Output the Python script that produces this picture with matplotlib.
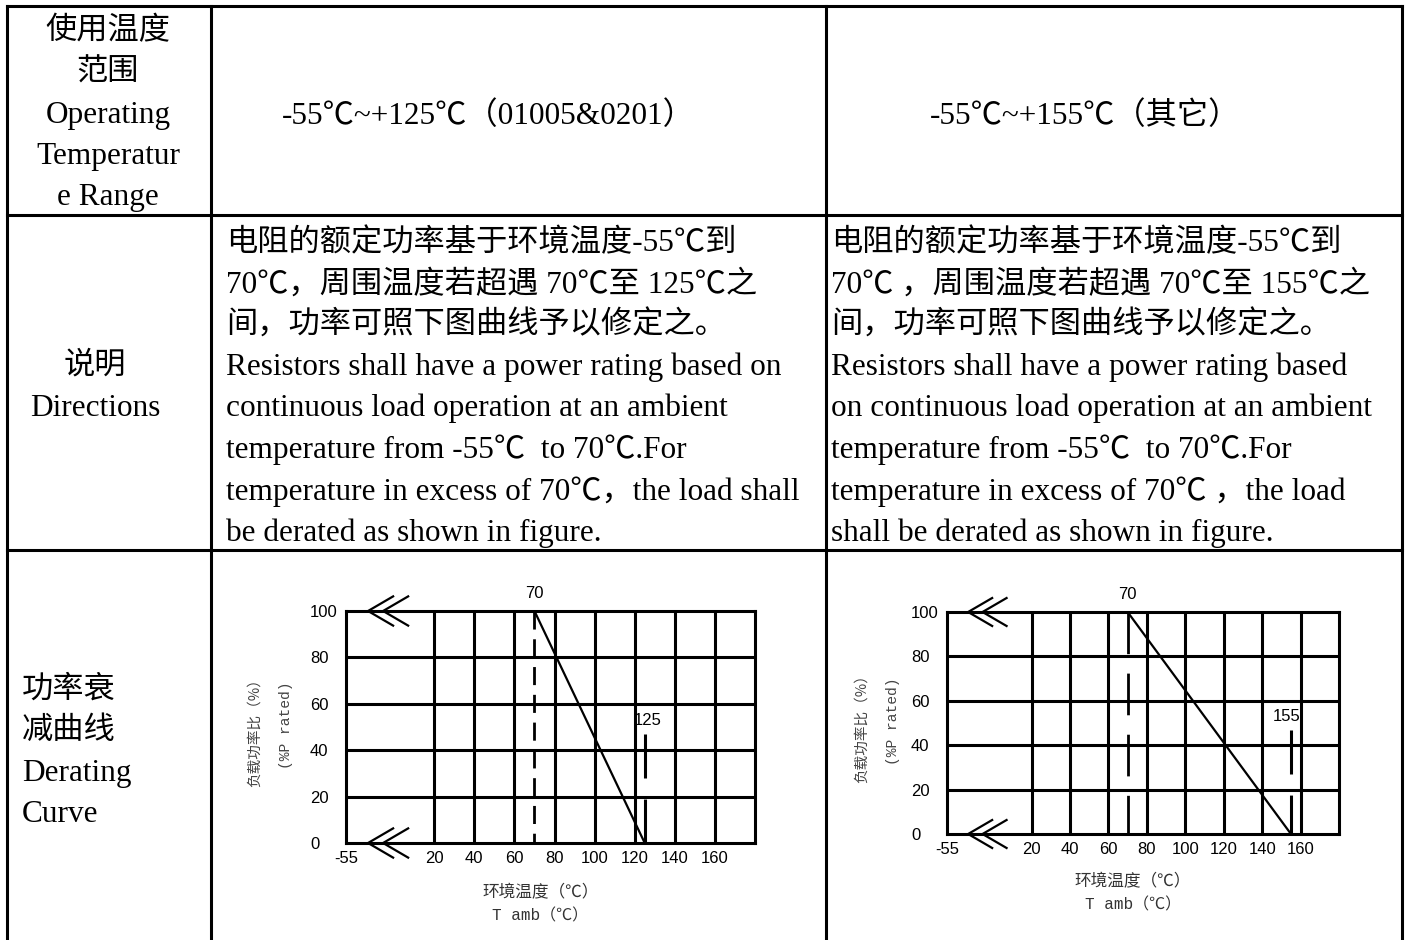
import matplotlib.pyplot as plt
from matplotlib.lines import Line2D

W, H = 1410, 940
SERIF = ['Liberation Serif', 'Noto Sans CJK SC', 'DejaVu Sans']
plt.rcParams['font.family'] = SERIF

# ---- table text ----
row1_head = ['使用温度', '范围', 'Operating', 'Temperatur', 'e Range']
range_a = '-55℃~+125℃（01005&0201）'
range_b = '-55℃~+155℃（其它）'
row2_head = ['说明', 'Directions']
desc_a = ['电阻的额定功率基于环境温度-55℃到',
          '70℃，周围温度若超遇 70℃至 125℃之',
          '间，功率可照下图曲线予以修定之。',
          'Resistors shall have a power rating based on',
          'continuous load operation at an ambient',
          'temperature from -55℃  to 70℃.For',
          'temperature in excess of 70℃，the load shall',
          'be derated as shown in figure.']
desc_b = ['电阻的额定功率基于环境温度-55℃到',
          '70℃ ，周围温度若超遇 70℃至 155℃之',
          '间，功率可照下图曲线予以修定之。',
          'Resistors shall have a power rating based',
          'on continuous load operation at an ambient',
          'temperature from -55℃  to 70℃.For',
          'temperature in excess of 70℃ ，the load',
          'shall be derated as shown in figure.']
row3_head = ['功率衰', '减曲线', 'Derating', 'Curve']

# ---- derating curve data ----
x_ticks = [20, 40, 60, 80, 100, 120, 140, 160]
y_ticks = [0, 20, 40, 60, 80, 100]
axis_left = -24          # broken axis: -55 sits here
axis_right = 180
knee = 70
curve_a_t = [70, 125]
curve_a_p = [100, 0]
curve_b_t = [70, 155]
curve_b_p = [100, 0]


def fx(x):
    return x / W


def fy(y):
    return 1 - y / H


fig = plt.figure(figsize=(W / 100, H / 100), dpi=100)

# table grid
lw_tab = 2.2
for x in [7, 211, 826, 1402]:
    fig.add_artist(Line2D([fx(x), fx(x)], [fy(6), fy(940)], color='black', lw=lw_tab))
for y in [6, 215, 550]:
    fig.add_artist(Line2D([fx(7), fx(1402)], [fy(y), fy(y)], color='black', lw=lw_tab))

fs = 22.5
dy = 4  # glyph centre sits a bit high with va='center'
for i, s in enumerate(row1_head):
    fig.text(fx(108), fy(28 + dy + i * 41.5), s, ha='center', va='center', fontsize=fs)
fig.text(fx(488), fy(112 + dy), range_a, ha='center', va='center', fontsize=fs)
fig.text(fx(1085), fy(112 + dy), range_b, ha='center', va='center', fontsize=fs)
for i, s in enumerate(row2_head):
    fig.text(fx(95), fy(362 + dy + i * 42), s, ha='center', va='center', fontsize=fs)
for i, s in enumerate(desc_a):
    fig.text(fx(226), fy(239 + dy + i * 41.4), s, ha='left', va='center', fontsize=fs)
for i, s in enumerate(desc_b):
    fig.text(fx(831), fy(239 + dy + i * 41.4), s, ha='left', va='center', fontsize=fs)
for i, s in enumerate(row3_head):
    fig.text(fx(22), fy(686 + dy + i * 41.5), s, ha='left', va='center', fontsize=fs)


def draw_chart(box, ct, cp, end_t, dash70, lab_off, ylab_x, xlab_y):
    l, r, t, b = box
    ax = fig.add_axes([fx(l), fy(b), fx(r - l), (b - t) / H])
    ax.set_xlim(axis_left, axis_right)
    ax.set_ylim(0, 100)
    for sp in ax.spines.values():
        sp.set_linewidth(2.2)
    for x in x_ticks:
        ax.axvline(x, color='black', lw=2.2)
    for y in y_ticks[1:-1]:
        ax.axhline(y, color='black', lw=2.2)
    ax.plot(ct, cp, color='black', lw=1.6)
    # dashed markers drawn top-down so the pattern starts with a dash at the top
    ax.plot([knee, knee], [100, 0], color='black', lw=2.0, linestyle=(0, dash70))
    ax.plot([end_t, end_t], [47, 0], color='black', lw=2.2, linestyle=(0, (14.4, 6.9)))
    ax.annotate('70', (knee, 100), xytext=(0, 7), textcoords='offset points',
                ha='center', va='bottom', fontsize=12, family='Liberation Sans')
    ax.annotate(str(end_t), (end_t, 53), xytext=(lab_off, 0), textcoords='offset points',
                ha='center', va='center', fontsize=12, family='Liberation Sans')
    # double chevrons on the 0 and 100 lines
    for yv in [0, 100]:
        for tip in [-13, -5.5]:
            ax.plot([tip + 12.5, tip, tip + 12.5], [yv + 6.3, yv, yv - 6.3],
                    color='black', lw=1.6, clip_on=False)
    ax.set_xticks([axis_left] + x_ticks)
    ax.set_xticklabels(['-55'] + [str(v) for v in x_ticks])
    ax.set_yticks(y_ticks)
    ax.set_yticklabels([str(v) for v in y_ticks])
    ax.tick_params(length=0, labelsize=12)
    ax.tick_params(axis='x', pad=6)
    ax.tick_params(axis='y', pad=26)
    for lbl in ax.get_xticklabels() + ax.get_yticklabels():
        lbl.set_family('Liberation Sans')
    for lbl in ax.get_yticklabels():
        lbl.set_ha('left')
    cy = (t + b) / 2 + 2
    cx = (l + r) / 2 - 10
    fig.text(fx(ylab_x), fy(cy), '负载功率比（%）', rotation=90, ha='center', va='center',
             fontsize=10.5, color='#444444', family=['Noto Sans CJK SC'])
    fig.text(fx(ylab_x + 31), fy(cy - 4), '(%P rated)', rotation=90, ha='center', va='center',
             fontsize=10.5, color='#444444', family=['Liberation Mono', 'Noto Sans CJK SC'])
    fig.text(fx(cx), fy(xlab_y), '环境温度（℃）', ha='center', va='center',
             fontsize=12, color='#333333', family=['Noto Sans CJK SC'])
    fig.text(fx(cx), fy(xlab_y + 23), 'T amb（℃）', ha='center', va='center',
             fontsize=11.5, color='#333333', family=['Liberation Mono', 'Noto Sans CJK SC'])
    return ax


draw_chart((346, 755, 611, 843), curve_a_t, curve_a_p, 125, (6.5, 3.5), 2, 255, 893)
draw_chart((947, 1339, 612, 834), curve_b_t, curve_b_p, 155, (15, 7), -3, 862, 882)

fig.savefig('out.png', dpi=100)
